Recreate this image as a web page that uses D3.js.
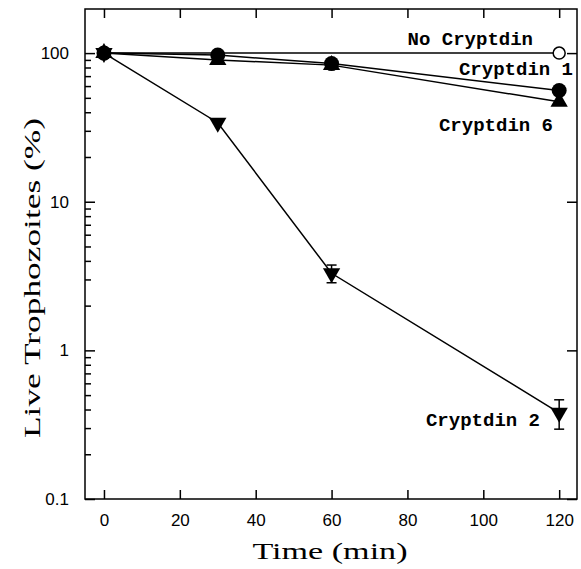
<!DOCTYPE html>
<html>
<head>
<meta charset="utf-8">
<script src="https://cdn.jsdelivr.net/npm/d3@7"></script>
<style>
  body { margin: 0; background: #fff; }
  .tick text { font-family: "Liberation Sans", Arial, sans-serif; font-size: 17px; fill: #000; }
  .lbl { font-family: "Liberation Mono", "Courier New", monospace; font-weight: bold; font-size: 19px; }
  .title { font-family: "Liberation Serif", serif; font-size: 23px; }
</style>
</head>
<body>
<div id="chart"></div>
<script>
// data
var times = [0, 30, 60, 120];
var noCryptdin = [100, 100, 100, 100];
var cryptdin1 = [100, 97, 85, 56];
var cryptdin6 = [100, 90, 83, 47];
var cryptdin2 = [100, 34, 3.3, 0.38];
var cryptdin2Err = [0, 0, 0.45, 0.085];
var xTicks = [0, 20, 40, 60, 80, 100, 120];
var yTicks = [0.1, 1, 10, 100];

var margin = {top: 9, right: 4, bottom: 70, left: 85},
    width = 581 - margin.left - margin.right,
    height = 569 - margin.top - margin.bottom;

var svg = d3.select("#chart")
  .append("svg")
    .attr("width", 581)
    .attr("height", 569)
  .append("g")
    .attr("transform", "translate(" + margin.left + "," + margin.top + ")");

var x = d3.scaleLinear()
  .domain([-5, 124.7])
  .range([0, width]);

var y = d3.scaleLog()
  .domain([0.1, 198])
  .range([height, 0]);

// minor log ticks
var minor = [];
[0.1, 1, 10, 100].forEach(function(d){
  for (var k = 2; k <= 9; k++) if (d * k < 198) minor.push(d * k);
});

// axes, ticks pointing inward
svg.append("g")
  .attr("transform", "translate(0," + height + ")")
  .call(d3.axisBottom(x).tickValues(xTicks).tickSize(-9).tickPadding(15));
svg.append("g")
  .call(d3.axisTop(x).tickValues(xTicks).tickSize(-9).tickFormat(""));
svg.append("g")
  .call(d3.axisLeft(y).tickValues(yTicks).tickSize(-10).tickPadding(16).tickFormat(d3.format("~g")));
svg.append("g")
  .call(d3.axisLeft(y).tickValues(minor).tickSize(-6).tickFormat(""));
svg.append("g")
  .attr("transform", "translate(" + width + ",0)")
  .call(d3.axisRight(y).tickValues(yTicks).tickSize(-10).tickFormat(""));

svg.selectAll(".domain").remove();
svg.selectAll(".tick line").attr("stroke", "#000").attr("stroke-width", 1.5);

// frame
svg.append("rect")
  .attr("width", width)
  .attr("height", height)
  .attr("fill", "none")
  .attr("stroke", "#000")
  .attr("stroke-width", 1.5);

var line = d3.line()
  .x(function(d, i){ return x(times[i]); })
  .y(function(d){ return y(d); });

[noCryptdin, cryptdin1, cryptdin6, cryptdin2].forEach(function(s){
  svg.append("path")
    .datum(s)
    .attr("fill", "none")
    .attr("stroke", "#000")
    .attr("stroke-width", 1.5)
    .attr("d", line);
});

// error bars for cryptdin 2
cryptdin2.forEach(function(v, i){
  var e = cryptdin2Err[i];
  if (!e) return;
  var cx = x(times[i]);
  var g = svg.append("g").attr("stroke", "#000").attr("stroke-width", 1.5);
  g.append("line").attr("x1", cx).attr("x2", cx).attr("y1", y(v + e)).attr("y2", y(v - e));
  g.append("line").attr("x1", cx - 5).attr("x2", cx + 5).attr("y1", y(v + e)).attr("y2", y(v + e));
  g.append("line").attr("x1", cx - 5).attr("x2", cx + 5).attr("y1", y(v - e)).attr("y2", y(v - e));
});

// markers
svg.selectAll(".tri-down")
  .data(cryptdin2)
  .enter().append("path")
    .attr("transform", function(d, i){ return "translate(" + x(times[i]) + "," + y(d) + ") rotate(180)"; })
    .attr("d", d3.symbol().type(d3.symbolTriangle).size(130))
    .attr("fill", "#000");

svg.selectAll(".tri-up")
  .data(cryptdin6)
  .enter().append("path")
    .attr("transform", function(d, i){ return "translate(" + x(times[i]) + "," + y(d) + ")"; })
    .attr("d", d3.symbol().type(d3.symbolTriangle).size(130))
    .attr("fill", "#000");

svg.selectAll(".dot")
  .data(cryptdin1)
  .enter().append("circle")
    .attr("cx", function(d, i){ return x(times[i]); })
    .attr("cy", function(d){ return y(d); })
    .attr("r", 7.5)
    .attr("fill", "#000");

svg.append("circle")
  .attr("cx", x(times[3]))
  .attr("cy", y(noCryptdin[3]))
  .attr("r", 6)
  .attr("fill", "#fff")
  .attr("stroke", "#000")
  .attr("stroke-width", 1.5);

// series labels
var labels = [
  {t: "No Cryptdin", x: 533, y: 45},
  {t: "Cryptdin 1", x: 573, y: 75},
  {t: "Cryptdin 6", x: 553, y: 131},
  {t: "Cryptdin 2", x: 540, y: 426}
];
d3.select("svg").selectAll(".lbl")
  .data(labels)
  .enter().append("text")
    .attr("class", "lbl")
    .attr("x", function(d){ return d.x; })
    .attr("y", function(d){ return d.y; })
    .attr("text-anchor", "end")
    .text(function(d){ return d.t; });

// axis titles
d3.select("svg").append("text")
  .attr("class", "title")
  .attr("x", 330)
  .attr("y", 559)
  .attr("text-anchor", "middle")
  .attr("textLength", 155)
  .attr("lengthAdjust", "spacingAndGlyphs")
  .text("Time (min)");

d3.select("svg").append("text")
  .attr("class", "title")
  .attr("transform", "translate(40,278) rotate(-90)")
  .attr("text-anchor", "middle")
  .attr("textLength", 320)
  .attr("lengthAdjust", "spacingAndGlyphs")
  .text("Live Trophozoites (%)");
</script>
</body>
</html>
